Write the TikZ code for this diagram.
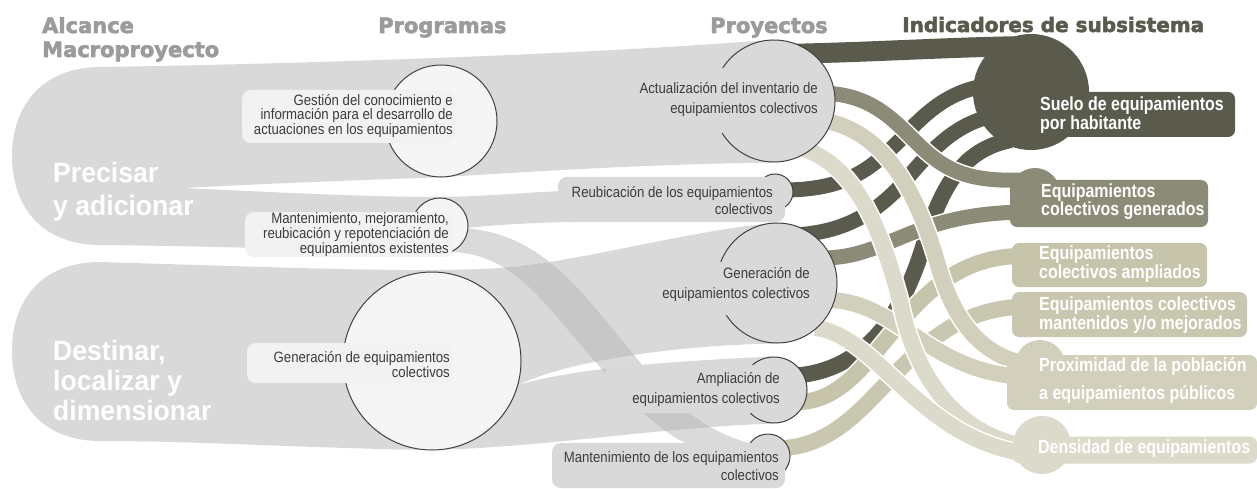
\documentclass[tikz,border=0pt]{standalone}
\usepackage{fontspec}
\setmainfont{Liberation Sans}
\newfontfamily\hdrfont[BoldFeatures={FakeBold=2.6}]{DejaVu Sans}
\newfontfamily\narfont[FakeStretch=0.88]{Liberation Sans}
\newfontfamily\indfont[FakeStretch=0.84]{Liberation Sans}
\newfontfamily\bigfont[FakeStretch=0.95]{Liberation Sans}
\usetikzlibrary{calc}
\pgfdeclarelayer{flowlayer}
\pgfdeclarelayer{bandlayer}
\pgfsetlayers{flowlayer,bandlayer,main}
\definecolor{flowgray}{HTML}{D9D9D9}
\definecolor{ovl}{RGB}{183,183,183}
\definecolor{progfill}{HTML}{F5F5F5}
\definecolor{boxw}{HTML}{F2F2F2}
\definecolor{lineg}{HTML}{404040}
\definecolor{txt}{HTML}{3C3C3C}
\definecolor{hdrgray}{HTML}{9B9B9B}
\definecolor{cD}{HTML}{5A5A4D}
\definecolor{cM}{HTML}{8C8B78}
\definecolor{cLa}{HTML}{C6C4AB}
\definecolor{cLb}{HTML}{C9C7B0}
\definecolor{cLc}{HTML}{D2D0BC}
\definecolor{cLd}{HTML}{DCDBCB}
\begin{document}
\begin{tikzpicture}[x=1pt,y=-1pt,
  hdr/.style={font=\hdrfont\bfseries\fontsize{21}{21}\selectfont, text=hdrgray, inner sep=0, anchor=base west},
  pcirc/.style={circle, draw=lineg, line width=1pt, fill=progfill, inner sep=0, minimum size=#1},
  ycirc/.style={circle, draw=lineg, line width=1pt, fill=flowgray, inner sep=0, minimum size=#1},
  pbox/.style={rectangle, rounded corners=9pt, fill=boxw, inner sep=0},
  ybox/.style={rectangle, rounded corners=9pt, fill=flowgray, inner sep=0},
  ptxt/.style={font=\narfont\fontsize{15}{13.4}\selectfont, text=txt, align=right, inner sep=0, anchor=east},
  ytxt/.style={font=\narfont\fontsize{15}{20}\selectfont, text=txt, align=right, inner sep=0, anchor=east},
  ytxts/.style={font=\narfont\fontsize{15}{17.5}\selectfont, text=txt, align=right, inner sep=0, anchor=east},
  bigtxt/.style={font=\bigfont\bfseries\fontsize{28}{#1}\selectfont, text=white, align=left, inner sep=0, anchor=west},
  icirc/.style={circle, inner sep=0, minimum size=#1},
  ibox/.style={rectangle, rounded corners=7pt, inner sep=0},
  itxt/.style={font=\indfont\bfseries\fontsize{19}{#1}\selectfont, text=white, align=left, inner sep=0, anchor=west},
  band/.style={draw=white, line width=1.5pt, double=#1, double distance=15pt},
]
\useasboundingbox (0,0) rectangle (1257,489);

% ---------- programas ----------
\node[pcirc=112pt] (pgest) at (441,121) {};
\node[pbox, minimum width=213pt, minimum height=53pt] (bgest) at (348.5,116.5) {};
\node[ptxt] (tgest) at (453,116) {Gestión del conocimiento e\\información para el desarrollo de\\actuaciones en los equipamientos};

\node[pcirc=56pt] (pmant) at (440,226) {};
\node[pbox, minimum width=208pt, minimum height=45pt] (bmant) at (349,234.5) {};
\node[ptxt] (tmant) at (449,235) {Mantenimiento, mejoramiento,\\reubicación y repotenciación de\\equipamientos existentes};

\node[pcirc=178pt] (pgen) at (432,361) {};
\node[pbox, minimum width=206pt, minimum height=40pt] (bgen) at (350,363) {};
\node[ptxt] (tgen) at (450,365) {Generación de equipamientos\\colectivos};

% ---------- proyectos ----------
\node[ycirc=122pt] (yact) at (774,101) {};
\node[ybox, minimum width=192pt, minimum height=65pt] (byact) at (726,100.5) {};
\node[ytxt] (tyact) at (818,99.5) {Actualización del inventario de\\equipamientos colectivos};

\node[ycirc=36pt] (yreu) at (775,192) {};
\node[ybox, minimum width=227pt, minimum height=45pt] (byreu) at (671.5,199.5) {};
\node[ytxts] (tyreu) at (773,200.5) {Reubicación de los equipamientos\\colectivos};

\node[ycirc=120pt] (ygen) at (777,283) {};
\node[ybox, minimum width=193pt, minimum height=53pt] (bygen) at (729.5,288.5) {};
\node[ytxt] (tygen) at (810,285) {Generación de\\equipamientos colectivos};

\node[ycirc=66pt] (yamp) at (774,390) {};
\node[ybox, minimum width=185pt, minimum height=48pt] (byamp) at (697.5,389) {};
\node[ytxt] (tyamp) at (780,390) {Ampliación de\\equipamientos colectivos};

\node[ycirc=44pt] (ymant) at (768,456) {};
\node[ybox, minimum width=233pt, minimum height=45pt] (bymant) at (668.5,465.5) {};
\node[ytxts] (tymant) at (779,466) {Mantenimiento de los equipamientos\\colectivos};

% ---------- indicadores ----------
\node[icirc=116pt, fill=cD] (isuelo) at (1031,92) {};
\node[ibox, fill=cD, minimum width=205pt, minimum height=45pt] (bsuelo) at (1132.5,114.5) {};
\node[itxt=15] (tsuelo) at (1040,115) {Suelo de equipamientos\\por habitante};

\node[icirc=50pt, fill=cM] (igen) at (1035,193) {};
\node[ibox, fill=cM, minimum width=198pt, minimum height=47pt] (bigen) at (1109,203.5) {};
\node[itxt=16.5] (tigen) at (1041,201.5) {Equipamientos\\colectivos generados};

\node[ibox, fill=cLa, minimum width=195pt, minimum height=44pt] (iamp) at (1109.5,265) {};
\node[itxt=16.5] (tiamp) at (1039,264) {Equipamientos\\colectivos ampliados};

\node[ibox, fill=cLb, minimum width=235pt, minimum height=45pt] (imant) at (1129.5,314.5) {};
\node[itxt=16.5] (timant) at (1039,315) {Equipamientos colectivos\\mantenidos y/o mejorados};

\node[icirc=50pt, fill=cLc] (iprox) at (1040,365) {};
\node[ibox, fill=cLc, minimum width=250pt, minimum height=55pt] (bprox) at (1132,382.5) {};
\node[itxt=28] (tiprox) at (1039,381) {Proximidad de la población\\a equipamientos públicos};

\node[icirc=58pt, fill=cLd] (idens) at (1042,445) {};
\node[ibox, fill=cLd, minimum width=244pt, minimum height=27pt] (bdens) at (1135,450) {};
\node[itxt=16.5] (tidens) at (1038,449) {Densidad de equipamientos};

% ---------- titulos ----------
\node[hdr] (h1) at (42,33) {Alcance};
\node[hdr] (h2) at (42,57) {Macroproyecto};
\node[hdr] (h3) at (378,33) {Programas};
\node[hdr] (h4) at (710,33) {Proyectos};
\node[hdr, text=cD, font=\hdrfont\bfseries\fontsize{20}{20}\selectfont] (h5) at (902,32) {Indicadores de subsistema};

\node[bigtxt=33] (tprec) at (53,191.5) {Precisar\\y adicionar};
\node[bigtxt=30] (tdest) at (53,380) {Destinar,\\localizar y\\dimensionar};

% ---------- flujos izquierdos ----------
\begin{pgfonlayer}{flowlayer}
\fill[white] (0,0) rectangle (1257,489);
\fill[flowgray] (101,67) .. controls (300,64) and (600,54) .. (yact.north) -- (yact.south)
  .. controls (600,165) and (480,176) .. (420,178)
  .. controls (330,181) and (240,185) .. (183,188)
  .. controls (250,191) and (360,197) .. (440,197)
  .. controls (500,196) and (540,191) .. (570,191) -- (570,222)
  .. controls (520,223) and (480,226) .. (460,229) -- (445,254)
  .. controls (350,250) and (200,246) .. (101,245)
  .. controls (40,245) and (12,205) .. (12,156)
  .. controls (12,108) and (40,67) .. (101,67) -- cycle;
\fill[flowgray] (100,262) .. controls (300,268) and (420,273) .. (500,268)
  .. controls (580,262) and (680,232) .. (ygen.north) -- (ygen.south)
  .. controls (680,345) and (570,360) .. (518,385)
  .. controls (570,370) and (650,362) .. (yamp.north) -- (yamp.south)
  .. controls (650,428) and (550,447) .. (432,450)
  .. controls (300,448) and (200,441) .. (100,441)
  .. controls (40,441) and (12,400) .. (12,351)
  .. controls (12,302) and (40,262) .. (100,262) -- cycle;
\fill[ovl, fill opacity=.51] (460,228) .. controls (540,231) and (580,290) .. (630,350)
  .. controls (670,400) and (700,432) .. (760,446) -- (720,457)
  .. controls (660,440) and (630,400) .. (590,356)
  .. controls (540,297) and (510,254) .. (452,252) -- cycle;
\end{pgfonlayer}

% ---------- bandas ----------
\begin{pgfonlayer}{bandlayer}
\draw[band=cD, double distance=20pt] ($(yact)+(10,-47)$) .. controls (880,52) and (950,47) .. ($(isuelo)+(0,-46)$);
\draw[band=cD] ($(yreu)+(8,-2)$) .. controls (845,190) and (870,170) .. (900,140) .. controls (930,108) and (955,85) .. ($(isuelo)+(-25,-8)$);
\draw[band=cD] ($(ygen)+(10,-48)$) .. controls (850,235) and (885,205) .. (910,175) .. controls (940,140) and (965,118) .. ($(isuelo)+(-25,22)$);
\draw[band=cD, double distance=16pt] ($(yamp)+(10,-14)$) .. controls (860,376) and (900,320) .. (922,250) .. controls (940,190) and (960,150) .. ($(isuelo)+(-20,48)$);
\draw[band=cM] ($(yact)+(45,-8)$) .. controls (880,93) and (900,130) .. (930,155) .. controls (960,180) and (990,181) .. ($(igen)+(-5,-13)$);
\draw[band=cM] ($(ygen)+(45,-25)$) .. controls (890,258) and (910,212) .. ($(igen)+(-5,19)$);
\draw[band=cLa, double distance=16pt] ($(yamp)+(25,12)$) .. controls (880,400) and (900,258) .. ($(iamp)+(-90,-9)$);
\draw[band=cLb, double distance=16pt] ($(ymant)+(17,-8)$) .. controls (880,440) and (900,310) .. ($(imant)+(-105,-8)$);
\draw[band=cLc, double distance=16pt] ($(yact)+(45,19)$) .. controls (885,128) and (918,195) .. (938,265) .. controls (955,325) and (985,360) .. ($(iprox)+(-5,0)$);
\draw[band=cLc, double distance=16pt] ($(ygen)+(50,17)$) .. controls (900,300) and (930,378) .. ($(iprox)+(-5,12)$);
\draw[band=cLd, double distance=16pt] ($(yact)+(28,47)$) .. controls (860,168) and (882,235) .. (900,300) .. controls (915,380) and (960,440) .. ($(idens)+(-5,3)$);
\draw[band=cLd, double distance=16pt] ($(ygen)+(38,45)$) .. controls (880,335) and (920,445) .. ($(idens)+(-5,10)$);
\end{pgfonlayer}
\end{tikzpicture}
\end{document}
